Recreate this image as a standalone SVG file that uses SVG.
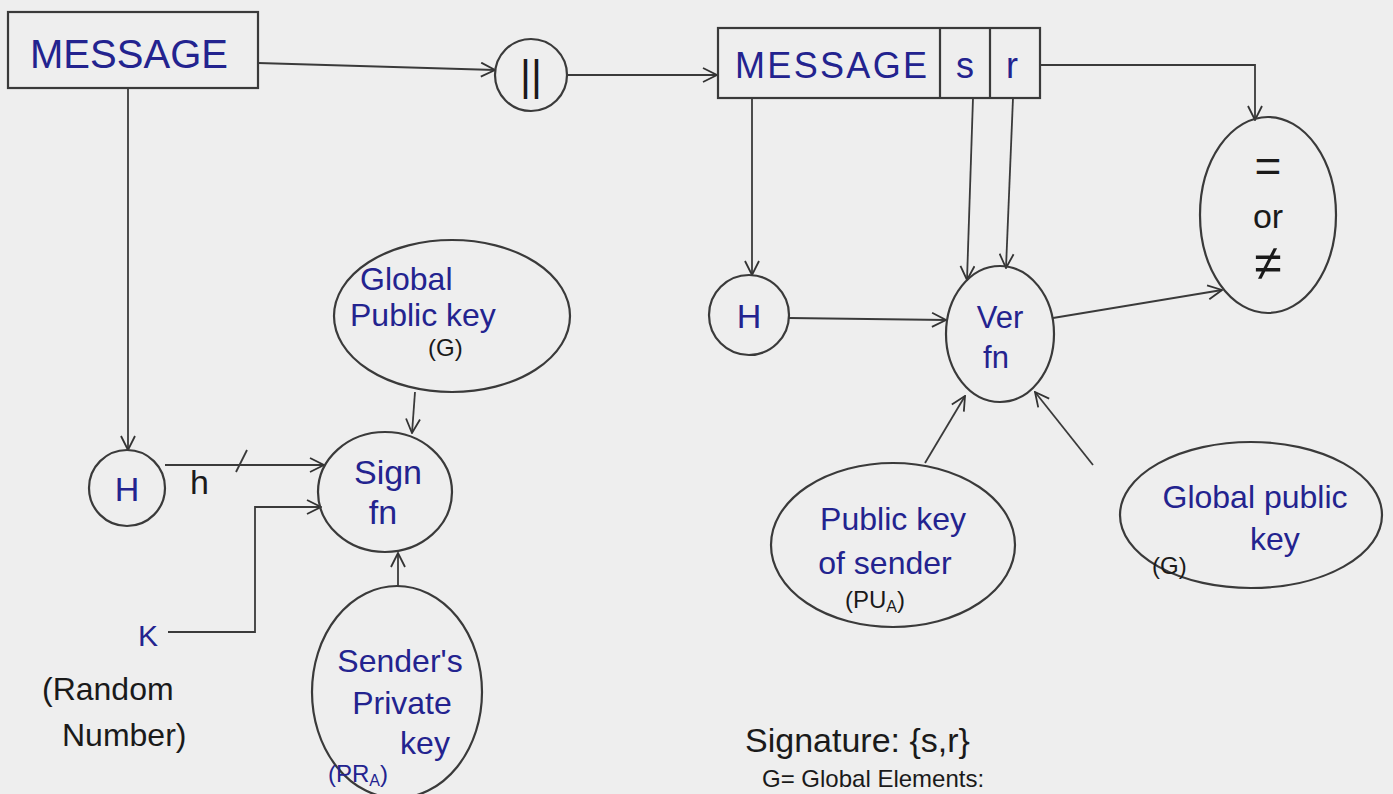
<svg xmlns="http://www.w3.org/2000/svg" width="1393" height="794" viewBox="0 0 1393 794">
<defs>
<marker id="ah" viewBox="0 0 16 16" refX="15" refY="8" markerWidth="16" markerHeight="16" markerUnits="userSpaceOnUse" orient="auto">
<path d="M1,1 L15,8 L1,15" fill="none" stroke="#333" stroke-width="1.8"/>
</marker>
<style>
.sh{fill:none;stroke:#3a3a3a;stroke-width:2.2}
.ln{fill:none;stroke:#3a3a3a;stroke-width:1.8;marker-end:url(#ah)}
.pl{fill:none;stroke:#3a3a3a;stroke-width:1.8}
.b{fill:#23238f;font-family:'Liberation Sans',sans-serif}
.k{fill:#1a1a1a;font-family:'Liberation Sans',sans-serif}
.c{text-anchor:middle}
</style>
</defs>
<rect width="1393" height="794" fill="#eeeeee"/>

<g id="connectors">
<path class="ln" d="M258,63 L495,70"/>
<path class="ln" d="M568,75 L717,75"/>
<path class="ln" d="M1040,65 L1255,65 L1255,120"/>
<path class="ln" d="M128,88 L128,450"/>
<path class="ln" d="M752,98 L752,275"/>
<path class="ln" d="M789,318 L946,320"/>
<path class="ln" d="M973,98 L967,280"/>
<path class="ln" d="M1013,98 L1006,268"/>
<path class="ln" d="M1053,318 L1222,290"/>
<path class="ln" d="M165,465 L324,465"/>
<path class="ln" d="M168,632 L255,632 L255,507 L321,507"/>
<path class="ln" d="M415,392 L412,433"/>
<path class="ln" d="M398,586 L398,553"/>
<path class="ln" d="M925,463 L965,396"/>
<path class="ln" d="M1093,465 L1035,392"/>
<path class="pl" d="M236,472 L247,450"/>
</g>

<g id="message1">
<rect class="sh" x="8" y="12" width="250" height="76"/>
<text class="b" x="30" y="68" font-size="40" textLength="198">MESSAGE</text>
</g>

<g id="concat">
<circle class="sh" cx="531" cy="75" r="36"/>
<text class="k c" x="531" y="90" font-size="42">||</text>
</g>

<g id="message2">
<rect class="sh" x="718" y="28" width="322" height="70"/>
<line class="sh" x1="940" y1="28" x2="940" y2="98"/>
<line class="sh" x1="990" y1="28" x2="990" y2="98"/>
<text class="b" x="735" y="78" font-size="36" textLength="192">MESSAGE</text>
<text class="b c" x="965" y="78" font-size="36">s</text>
<text class="b c" x="1012" y="78" font-size="36">r</text>
</g>

<g id="compare">
<ellipse class="sh" cx="1268" cy="215" rx="68" ry="98"/>
<text class="k c" x="1268" y="182" font-size="46">=</text>
<text class="k c" x="1268" y="228" font-size="34">or</text>
<text class="k c" x="1268" y="280" font-size="50">≠</text>
</g>

<g id="hash2">
<circle class="sh" cx="749" cy="315" r="40"/>
<text class="b c" x="749" y="328" font-size="34">H</text>
</g>

<g id="verify">
<ellipse class="sh" cx="1000" cy="334" rx="54" ry="68"/>
<text class="b c" x="1000" y="328" font-size="31">Ver</text>
<text class="b c" x="996" y="368" font-size="31">fn</text>
</g>

<g id="pubSender">
<ellipse class="sh" cx="893" cy="545" rx="122" ry="82"/>
<text class="b c" x="893" y="530" font-size="32">Public key</text>
<text class="b c" x="885" y="574" font-size="32">of sender</text>
<text class="k" x="845" y="608" font-size="24">(PU<tspan font-size="16" dy="4">A</tspan><tspan dy="-4">)</tspan></text>
</g>

<g id="globalRight">
<ellipse class="sh" cx="1251" cy="515" rx="131" ry="73"/>
<text class="b c" x="1255" y="508" font-size="32">Global public</text>
<text class="b" x="1250" y="550" font-size="32">key</text>
<text class="k" x="1152" y="574" font-size="24">(G)</text>
</g>

<g id="hash1">
<circle class="sh" cx="127" cy="488" r="38"/>
<text class="b c" x="127" y="501" font-size="34">H</text>
</g>

<g id="sign">
<ellipse class="sh" cx="385" cy="492" rx="67" ry="60"/>
<text class="b c" x="388" y="484" font-size="34">Sign</text>
<text class="b c" x="383" y="524" font-size="34">fn</text>
</g>

<g id="globalLeft">
<ellipse class="sh" cx="452" cy="316" rx="118" ry="76"/>
<text class="b" x="360" y="290" font-size="32">Global</text>
<text class="b" x="350" y="326" font-size="32">Public key</text>
<text class="k" x="428" y="356" font-size="24">(G)</text>
</g>

<g id="private">
<ellipse class="sh" cx="397" cy="692" rx="85" ry="106"/>
<text class="b c" x="400" y="672" font-size="32">Sender's</text>
<text class="b c" x="402" y="714" font-size="32">Private</text>
<text class="b c" x="425" y="754" font-size="32">key</text>
<text class="b" x="328" y="782" font-size="24">(PR<tspan font-size="16" dy="4">A</tspan><tspan dy="-4">)</tspan></text>
</g>

<g id="hLabel">
<text class="k" x="190" y="494" font-size="34">h</text>
</g>

<g id="kLabel">
<text class="b" x="138" y="646" font-size="30">K</text>
<text class="k" x="42" y="700" font-size="32">(Random</text>
<text class="k" x="62" y="746" font-size="32">Number)</text>
</g>

<g id="notes">
<text class="k" x="745" y="752" font-size="34">Signature: {s,r}</text>
<text class="k" x="762" y="787" font-size="24">G= Global Elements:</text>
</g>
</svg>
